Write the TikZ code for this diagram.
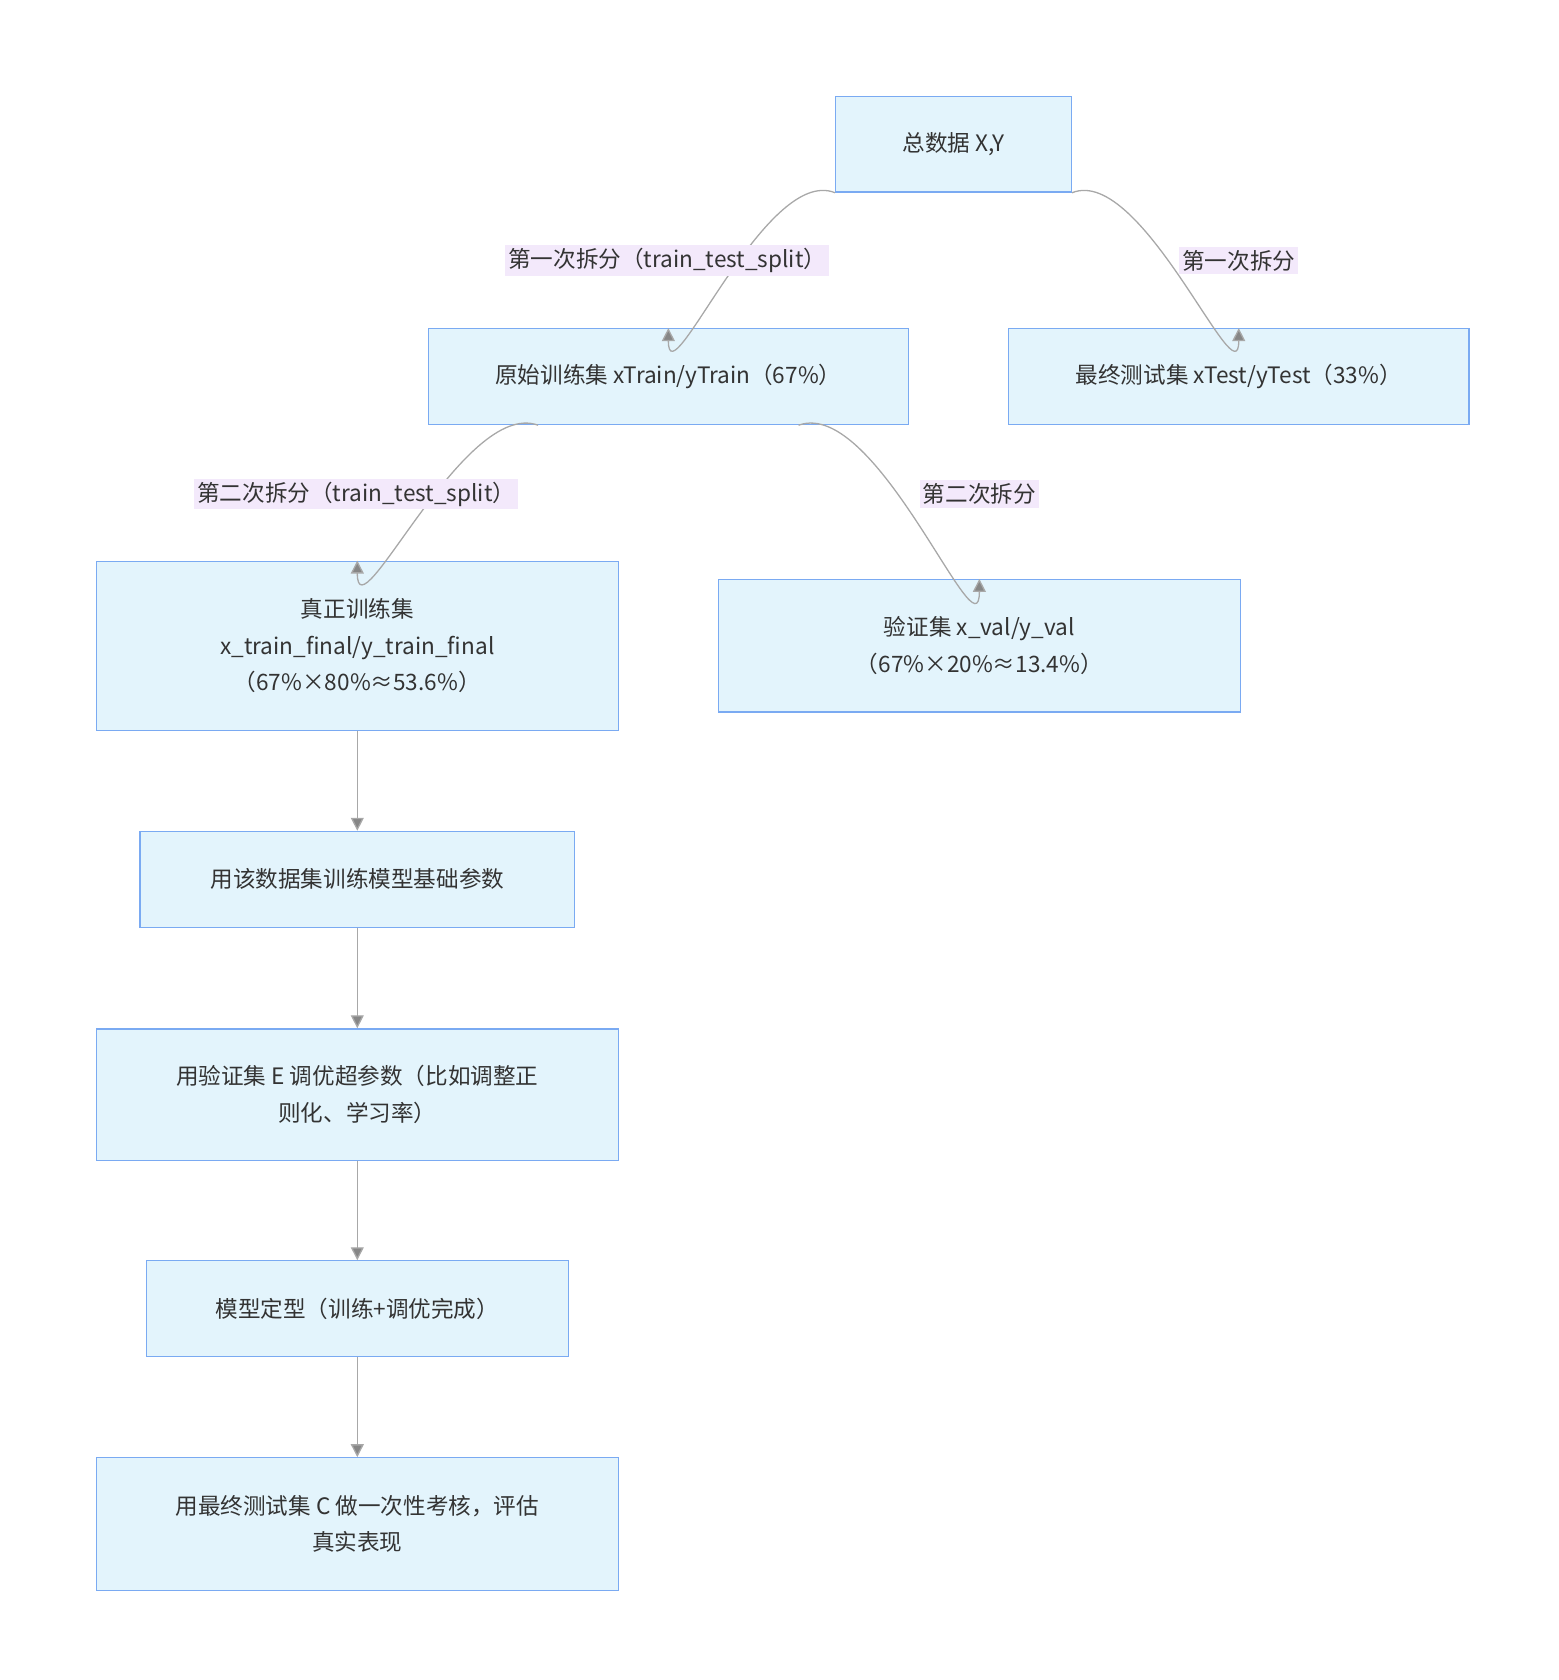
\documentclass[tikz,border=0pt]{standalone}
\usepackage{fontspec}
\setmainfont{Noto Sans CJK SC}
\usetikzlibrary{arrows.meta}
\definecolor{boxfill}{HTML}{E3F4FC}
\definecolor{boxline}{HTML}{7AAAF2}
\definecolor{lblfill}{HTML}{F3E9FB}
\definecolor{edgegray}{HTML}{A8A8A8}
\tikzset{
	box/.style={draw=boxline, fill=boxfill, line width=0.6pt, align=center, inner sep=0pt, font=\fontsize{10.5}{17}\selectfont, text=black!80},
	lbl/.style={fill=lblfill, inner sep=1.5pt, font=\fontsize{10.5}{13}\selectfont, text=black!80},
	edge/.style={draw=edgegray, line width=0.6pt, -{Triangle[length=6pt,width=6pt,fill=edgegray!80!black]}}
}
\begin{document}
\begin{tikzpicture}[x=0.5pt,y=0.5pt,yscale=-1]
	\useasboundingbox (0,0) rectangle (1448,1561);
	
	% nodes
	\node[box, minimum width=219pt*0.5, minimum height=89pt*0.5] (all) at (886,134) {总数据 X,Y};
	\node[box, minimum width=446pt*0.5, minimum height=89pt*0.5] (train) at (621,350) {原始训练集 xTrain/yTrain（67\%）};
	\node[box, minimum width=428pt*0.5, minimum height=89pt*0.5] (test) at (1151,350) {最终测试集 xTest/yTest（33\%）};
	\node[box, minimum width=485pt*0.5, minimum height=157pt*0.5] (final) at (332,600) {真正训练集\\x\_train\_final/y\_train\_final\\（67\%×80\%≈53.6\%）};
	\node[box, minimum width=485pt*0.5, minimum height=123pt*0.5] (val) at (910,600) {验证集 x\_val/y\_val\\（67\%×20\%≈13.4\%）};
	\node[box, minimum width=404pt*0.5, minimum height=89pt*0.5] (fit) at (332,817) {用该数据集训练模型基础参数};
	\node[box, minimum width=485pt*0.5, minimum height=122pt*0.5] (tune) at (332,1017) {用验证集 E 调优超参数（比如调整正\\则化、学习率）};
	\node[box, minimum width=392pt*0.5, minimum height=89pt*0.5] (fixed) at (332,1216) {模型定型（训练+调优完成）};
	\node[box, minimum width=485pt*0.5, minimum height=123pt*0.5] (eval) at (332,1416) {用最终测试集 C 做一次性考核，评估\\真实表现};
	
	% edges
	\draw[edge] (all.south west) to[out=-158,in=90,looseness=0.9] (train.north);
	\draw[edge] (all.south east) to[out=-22,in=90,looseness=0.9] (test.north);
	\draw[edge] (train.south) ++(-121,0) coordinate (ts) to[out=-160,in=90,looseness=0.9] (final.north);
	\draw[edge] (train.south) ++(121,0) coordinate (te) to[out=-20,in=90,looseness=0.9] (val.north);
	\draw[edge] (final) -- (fit);
	\draw[edge] (fit) -- (tune);
	\draw[edge] (tune) -- (fixed);
	\draw[edge] (fixed) -- (eval);
	
	% edge labels
	\node[lbl] (s1) at (620,242) {第一次拆分（train\_test\_split）};
	\node[lbl] (s2) at (1151,242) {第一次拆分};
	\node[lbl] (s3) at (331,459) {第二次拆分（train\_test\_split）};
	\node[lbl] (s4) at (910,459) {第二次拆分};
\end{tikzpicture}
\end{document}
